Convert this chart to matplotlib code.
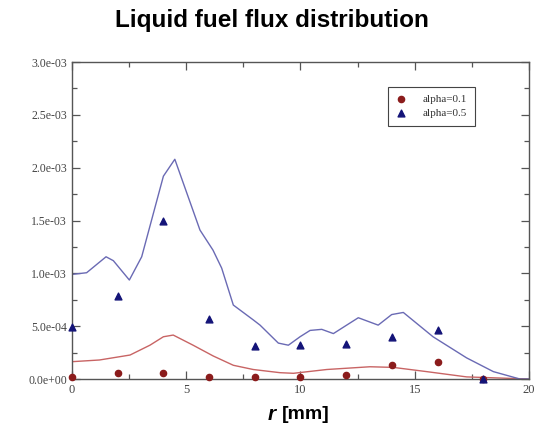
import matplotlib
matplotlib.use("Agg")
import matplotlib.pyplot as plt
from matplotlib.ticker import FuncFormatter, MultipleLocator

# Simulation curves
r_a01_line = [0, 1.2, 2.54, 3.41, 4.0, 4.43, 5.3, 6.18, 7.06, 7.93, 9.1, 9.69, 11.15, 13.04, 14.06, 15.52, 17.27, 20]
flux_a01_line = [0.164e-3, 0.18e-3, 0.227e-3, 0.32e-3, 0.40e-3, 0.416e-3, 0.32e-3, 0.218e-3, 0.13e-3, 0.09e-3,
                 0.06e-3, 0.054e-3, 0.09e-3, 0.116e-3, 0.11e-3, 0.07e-3, 0.02e-3, 0.0]

r_a05_line = [0, 0.64, 1.49, 1.81, 2.51, 3.05, 4.0, 4.5, 5.6, 6.17, 6.55, 7.06, 7.93, 8.23, 9.03, 9.47, 9.98,
              10.42, 10.93, 11.44, 12.02, 12.53, 13.4, 13.99, 14.5, 15.8, 17.27, 18.44, 19.6, 20]
flux_a05_line = [0.99e-3, 1.006e-3, 1.157e-3, 1.12e-3, 0.937e-3, 1.157e-3, 1.92e-3, 2.08e-3, 1.41e-3, 1.22e-3,
                 1.05e-3, 0.70e-3, 0.56e-3, 0.51e-3, 0.34e-3, 0.32e-3, 0.40e-3, 0.46e-3, 0.47e-3, 0.43e-3,
                 0.51e-3, 0.58e-3, 0.51e-3, 0.61e-3, 0.63e-3, 0.40e-3, 0.20e-3, 0.07e-3, 0.0, 0.0]

# Experimental points
r_pts = [0, 2, 4, 6, 8, 10, 12, 14, 16, 18]
flux_a01_pts = [0.02e-3, 0.054e-3, 0.054e-3, 0.02e-3, 0.02e-3, 0.02e-3, 0.038e-3, 0.13e-3, 0.164e-3, 0.0]
flux_a05_pts = [0.495e-3, 0.79e-3, 1.50e-3, 0.565e-3, 0.31e-3, 0.32e-3, 0.33e-3, 0.40e-3, 0.46e-3, 0.0]

fig = plt.figure(figsize=(5.43, 4.34), dpi=100)
ax = fig.add_axes([0.1326, 0.1267, 0.8416, 0.7303])

ax.plot(r_a01_line, flux_a01_line, color="#c86464", lw=1.0, zorder=2)
ax.plot(r_a05_line, flux_a05_line, color="#6a6ab4", lw=1.0, zorder=2)
ax.scatter(r_pts, flux_a01_pts, marker="o", s=20, color="#8b1c1c", label="alpha=0.1", zorder=3, clip_on=False)
ax.scatter(r_pts, flux_a05_pts, marker="^", s=24, color="#141478", label="alpha=0.5", zorder=3, clip_on=False)

ax.set_xlim(0, 20)
ax.set_ylim(0, 3.0e-3)
ax.xaxis.set_major_locator(MultipleLocator(5))
ax.xaxis.set_minor_locator(MultipleLocator(2.5))
ax.yaxis.set_major_locator(MultipleLocator(0.5e-3))
ax.yaxis.set_minor_locator(MultipleLocator(0.25e-3))
ax.yaxis.set_major_formatter(FuncFormatter(lambda v, p: f"{v:.1e}"))
ax.tick_params(which="both", direction="in", top=True, right=True, colors="#555555",
               labelcolor="#444444")
ax.tick_params(which="major", length=6, width=0.9)
ax.tick_params(which="minor", length=3.5, width=0.9)
for lbl in ax.get_xticklabels() + ax.get_yticklabels():
    lbl.set_family("Liberation Serif")
for lbl in ax.get_xticklabels():
    lbl.set_fontsize(9)
for lbl in ax.get_yticklabels():
    lbl.set_fontsize(8.5)
for sp in ax.spines.values():
    sp.set_color("#555555")
    sp.set_linewidth(1.0)

leg = ax.legend(loc="upper right", bbox_to_anchor=(0.893, 0.94), prop={"family": "Liberation Serif", "size": 8},
                fancybox=False, edgecolor="#444444", framealpha=1, handletextpad=1.4, borderpad=0.7,
                labelspacing=0.4, handlelength=1.0)
leg.get_frame().set_linewidth(0.8)
for t in leg.get_texts():
    t.set_color("#333333")

fig.text(0.5, 0.952, "Liquid fuel flux distribution", ha="center", va="center",
         fontsize=17.5, fontweight="bold", family="Liberation Sans")
fig.text(0.4936, 0.044, "r", ha="left", va="center", fontsize=15, fontweight="bold",
         fontstyle="italic", family="Liberation Sans")
fig.text(0.519, 0.044, "[mm]", ha="left", va="center", fontsize=14, fontweight="bold", family="Liberation Sans")

fig.savefig("out.png", dpi=100)
